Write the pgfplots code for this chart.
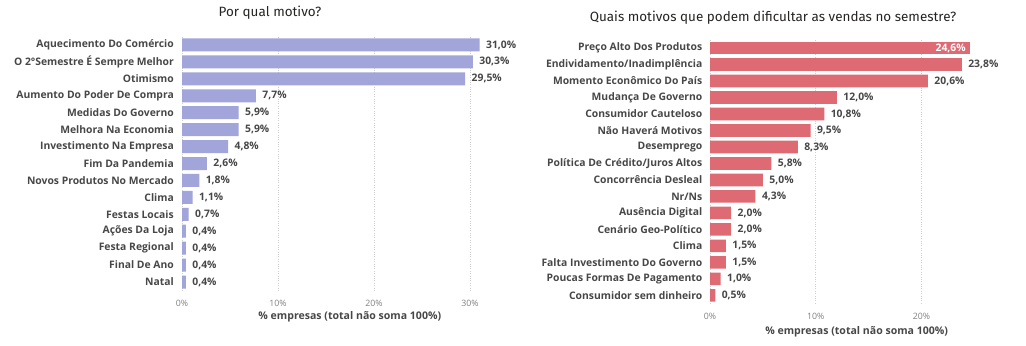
\documentclass[border=0pt]{standalone}
\usepackage{fontspec}
\setmainfont{Open Sans}
\newfontfamily\titlefont{Fira Sans}
\usepackage{pgfplots}
\pgfplotsset{compat=1.18}
\definecolor{barblue}{HTML}{A1A5DA}
\definecolor{barred}{HTML}{DE6A73}
\definecolor{lbl}{HTML}{474747}
\definecolor{tick}{HTML}{808080}
\definecolor{gridc}{HTML}{D0D0D0}
\definecolor{ttl}{HTML}{252423}
\pgfplotsset{
  mybar/.style={
    scale only axis,
    xbar, bar width=13bp,
    y dir=reverse,
    axis line style={draw=none},
    tick style={draw=none},
    major tick length=0pt,
    xmajorgrids, grid style={gridc, dotted, line width=0.8pt},
    xticklabel={\pgfmathprintnumber{\tick}\%},
    xticklabel style={font=\fontsize{8.8}{9}\selectfont, color=tick, anchor=center},
    yticklabel style={font=\bfseries\fontsize{10.4}{11}\selectfont, color=lbl, anchor=east, inner sep=0pt},
    xlabel style={font=\bfseries\fontsize{10.6}{11}\selectfont, color=lbl, at={(axis description cs:0.5,0)}, anchor=center},
    point meta=x,
    nodes near coords={\pgfmathprintnumber[fixed,fixed zerofill,precision=1,use comma]{\pgfplotspointmeta}\%},
    nodes near coords style={font=\bfseries\fontsize{10.4}{11}\selectfont, color=lbl, anchor=west, xshift=3bp},
    /pgf/number format/assume math mode=true,
  }
}
\begin{document}
\begin{tikzpicture}
\path[use as bounding box] (0bp,0bp) rectangle (1026bp,-346bp);
% Left chart
\begin{axis}[mybar,
  at={(182bp,-290.5bp)}, anchor=south west,
  width=297.6bp, height=254bp,
  xmin=0, xmax=31, ymin=-0.5, ymax=14.5,
  xtick={0,10,20,30},
  ytick={0,...,14},
  yticklabels={Aquecimento Do Comércio, O 2°Semestre É Sempre Melhor, Otimismo, Aumento Do Poder De Compra, Medidas Do Governo, Melhora Na Economia, Investimento Na Empresa, Fim Da Pandemia, Novos Produtos No Mercado, Clima, Festas Locais, Ações Da Loja, Festa Regional, Final De Ano, Natal},
  yticklabel style={xshift=-8bp},
  xticklabel style={yshift=-12.5bp},
  xlabel={\% empresas (total não soma 100\%)},
  xlabel style={yshift=-26.2bp, xshift=19bp},
]
\addplot[fill=barblue, draw=none, bar shift=0pt] coordinates {
(31.0,0) (30.3,1) (29.5,2) (7.7,3) (5.9,4) (5.9,5) (4.8,6) (2.6,7) (1.8,8) (1.1,9) (0.7,10) (0.4,11) (0.4,12) (0.4,13) (0.4,14)};
\end{axis}
% Right chart
\begin{axis}[mybar,
  at={(710bp,-303.6bp)}, anchor=south west,
  width=261.3bp, height=263.8bp,
  bar width=12.6bp,
  xmin=0, xmax=24.7, ymin=-0.5, ymax=15.5,
  xtick={0,10,20},
  ytick={0,...,15},
  yticklabels={Preço Alto Dos Produtos, Endividamento/Inadimplência, Momento Econômico Do País, Mudança De Governo, Consumidor Cauteloso, Não Haverá Motivos, Desemprego, Política De Crédito/Juros Altos, Concorrência Desleal, Nr/Ns, Ausência Digital, Cenário Geo-Político, Clima, Falta Investimento Do Governo, Poucas Formas De Pagamento, Consumidor sem dinheiro},
  yticklabel style={xshift=-7.5bp},
  xticklabel style={yshift=-13.1bp},
  xlabel={\% empresas (total não soma 100\%)},
  xlabel style={yshift=-28.4bp, xshift=16bp},
]
\addplot[fill=barred, draw=none, bar shift=0pt,
  nodes near coords style={anchor=east, color=white, xshift=-4bp}] coordinates {(24.6,0)};
\addplot[fill=barred, draw=none, bar shift=0pt] coordinates {
(23.8,1) (20.6,2) (12.0,3) (10.8,4) (9.5,5) (8.3,6) (5.8,7) (5.0,8) (4.3,9) (2.0,10) (2.0,11) (1.5,12) (1.5,13) (1.0,14) (0.5,15)};
\end{axis}
\node[font=\titlefont\fontsize{13.5}{14}\selectfont, color=ttl] at (270bp,-13bp) {Por qual motivo?};
\node[font=\titlefont\fontsize{13.5}{14}\selectfont, color=ttl] at (773bp,-18bp) {Quais motivos que podem dificultar as vendas no semestre?};
\end{tikzpicture}
\end{document}
